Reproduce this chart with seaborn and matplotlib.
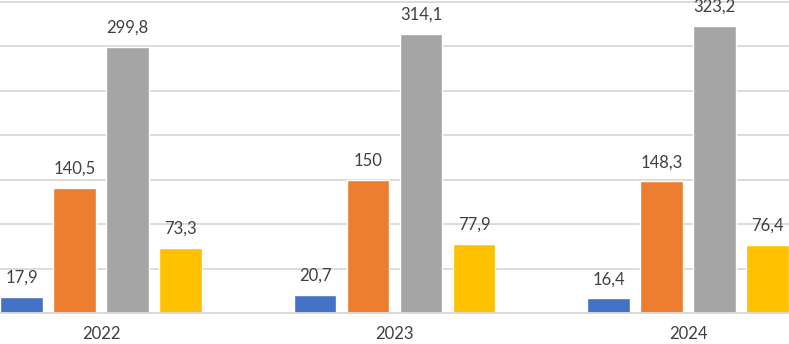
import pandas as pd
import matplotlib.pyplot as plt
import seaborn as sns

# data
years = ["2022", "2023", "2024"]
series = ["s1", "s2", "s3", "s4"]
s1 = [17.9, 20.7, 16.4]
s2 = [140.5, 150.0, 148.3]
s3 = [299.8, 314.1, 323.2]
s4 = [73.3, 77.9, 76.4]
colors = ["#4472C4", "#ED7D31", "#A5A5A5", "#FFC000"]

df = pd.DataFrame({
    "year": years * 4,
    "series": [s for s in series for _ in years],
    "value": s1 + s2 + s3 + s4,
})

sns.set_style("white")
plt.rcParams["font.family"] = ["Lato", "DejaVu Sans"]

fig = plt.figure(figsize=(7.89, 3.44), dpi=100)
ax = fig.add_axes([0, 31 / 344, 1, 1 - 31 / 344])

sns.barplot(data=df, x="year", y="value", hue="series", order=years,
            hue_order=series, palette=colors, width=0.722, gap=0.2,
            saturation=1, legend=False, ax=ax)

for cont in ax.containers:
    labels = [f"{v:g}".replace(".", ",") for v in cont.datavalues]
    ax.bar_label(cont, labels=labels, padding=8, fontsize=12, color="#404040")

ax.set_ylim(0, 352.3)
ax.set_xlim(-0.344, 2.344)
ax.set_yticks(range(0, 351, 50))
ax.yaxis.grid(True, color="#d9d9d9", linewidth=1.3)
ax.set_axisbelow(True)
ax.tick_params(axis="y", left=False, labelleft=False)
ax.tick_params(axis="x", bottom=False, pad=6, labelsize=12, labelcolor="#404040")
ax.set_xlabel("")
ax.set_ylabel("")
for side in ["top", "right", "left"]:
    ax.spines[side].set_visible(False)
ax.spines["bottom"].set_color("#d9d9d9")
ax.spines["bottom"].set_linewidth(1.3)

fig.savefig("out.png", dpi=100)
